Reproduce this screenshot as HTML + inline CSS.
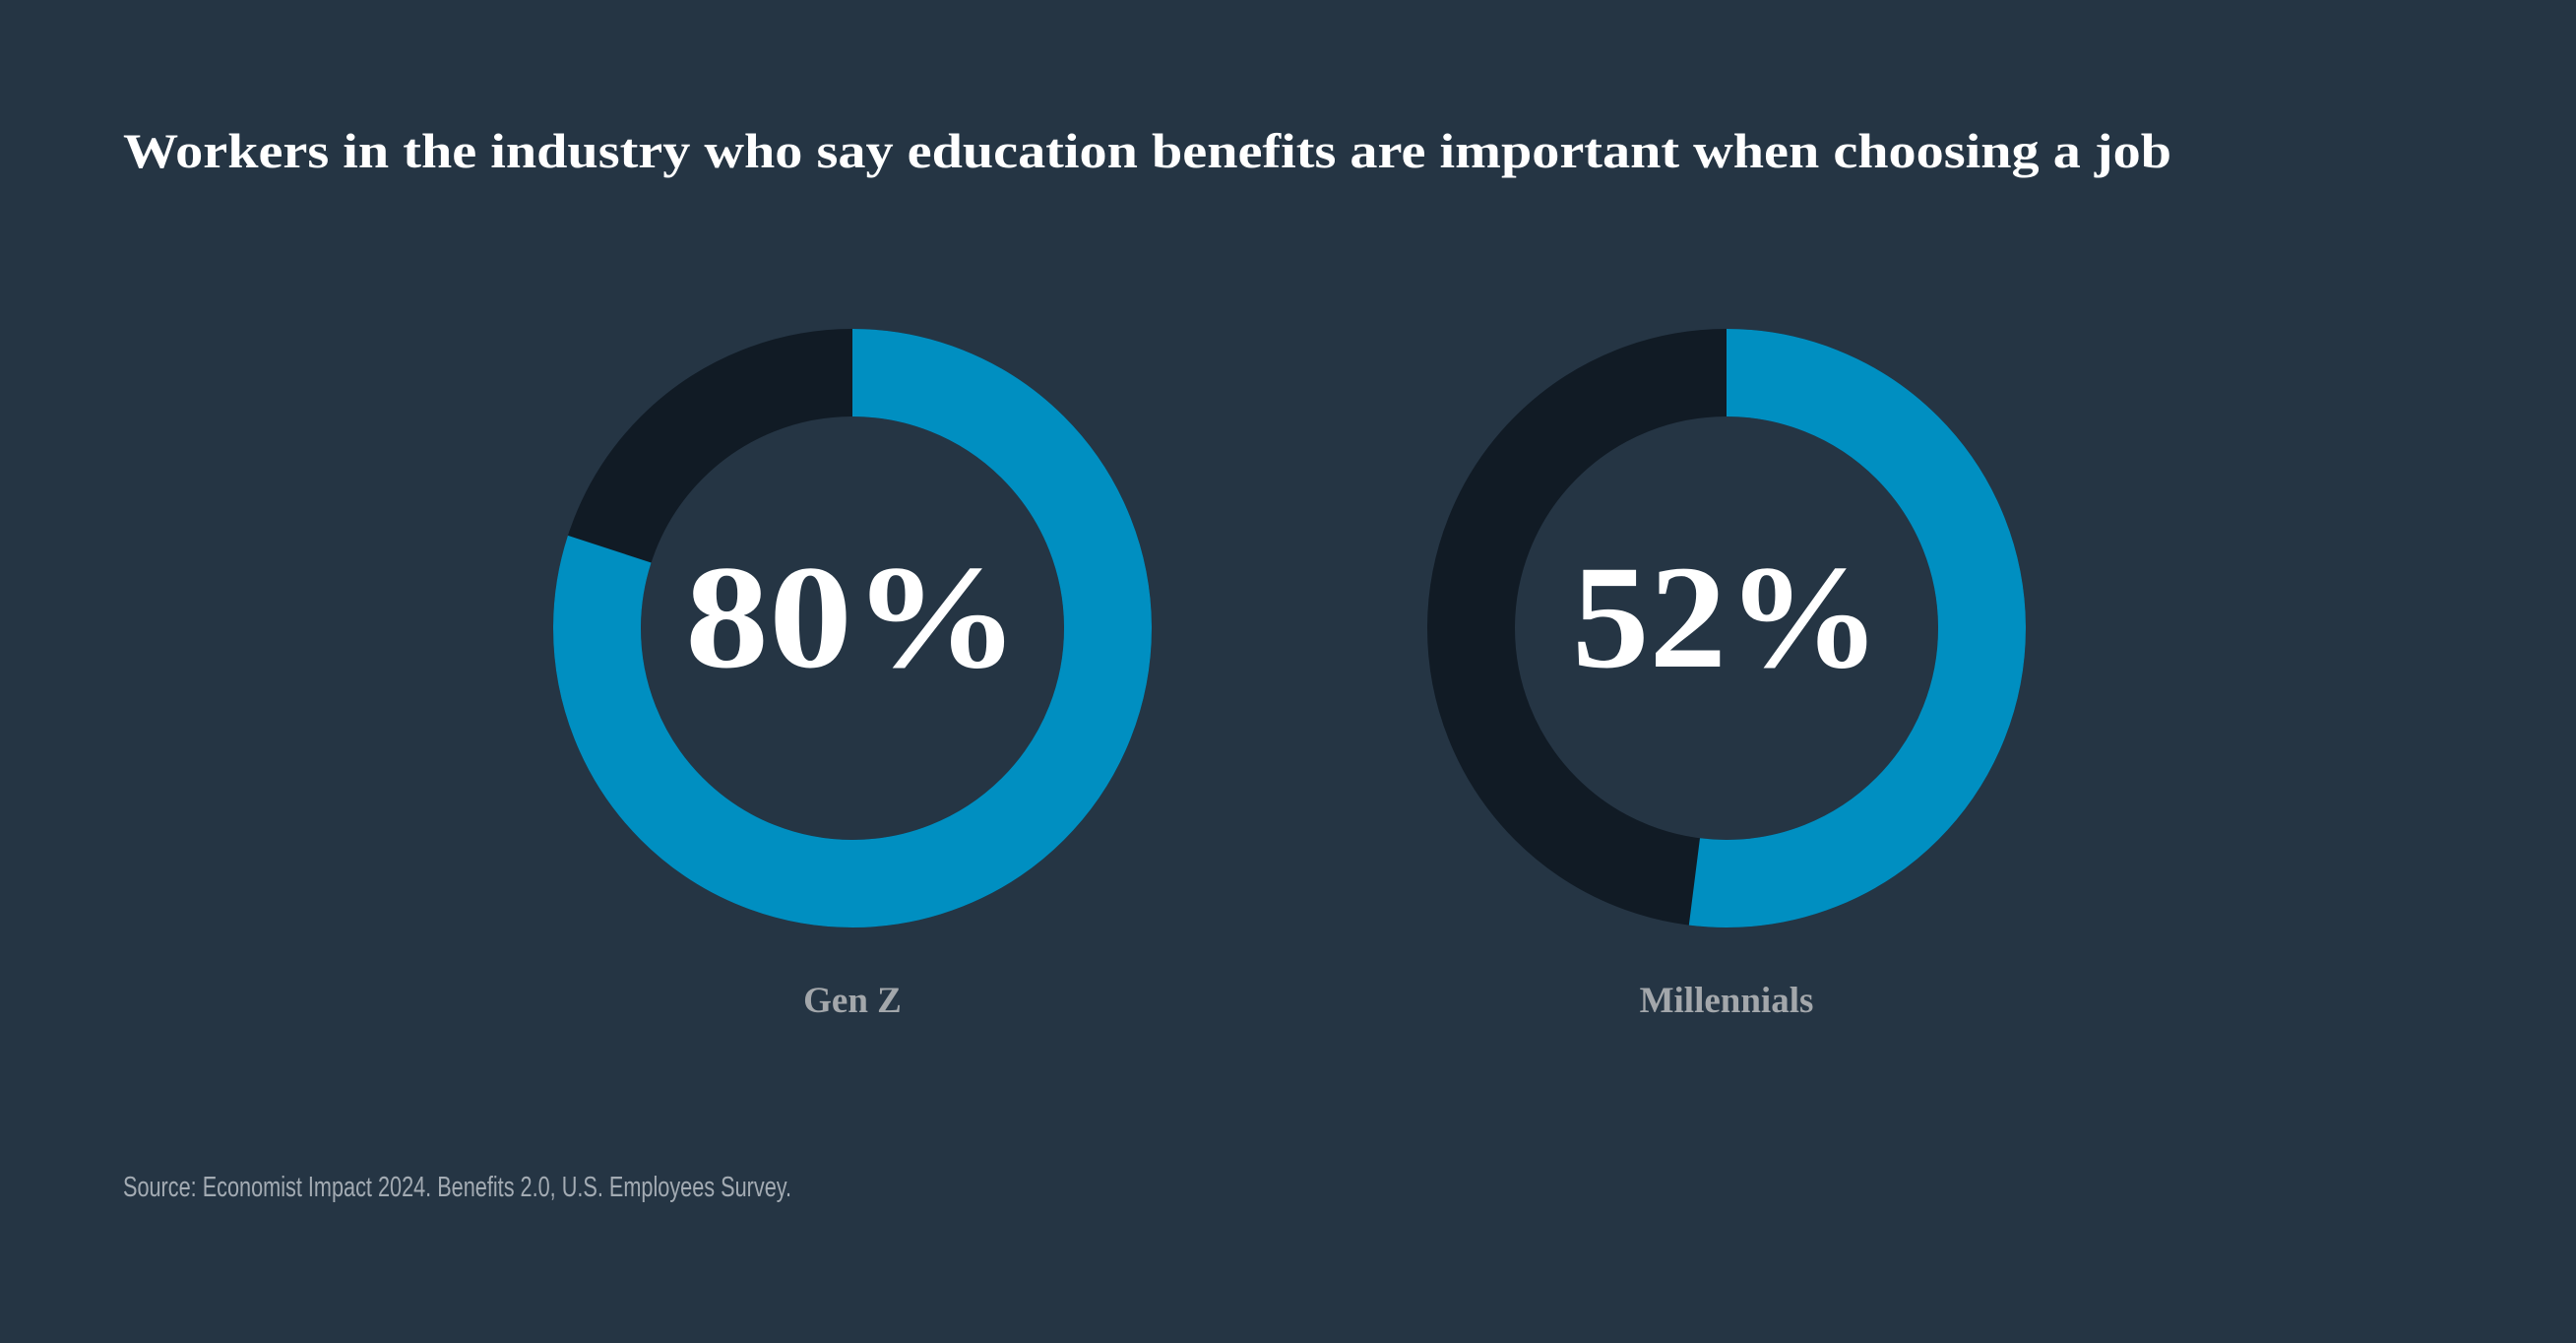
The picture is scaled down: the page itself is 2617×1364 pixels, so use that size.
<!DOCTYPE html>
<html><head><meta charset="utf-8"><style>
html,body{margin:0;padding:0;background:#253544;}
svg{display:block;}
</style></head><body>
<svg id="chart" width="2617" height="1364" viewBox="0 0 2617 1364" xmlns="http://www.w3.org/2000/svg">
<rect width="2617" height="1364" fill="#253544"/>
<text x="125" y="170" font-family="'Liberation Serif',serif" font-weight="bold" font-size="50" fill="#ffffff" textLength="2081" lengthAdjust="spacingAndGlyphs">Workers in the industry who say education benefits are important when choosing a job</text>
<g id="donuts"></g>
<text x="125" y="1215" font-family="'Liberation Sans Narrow','Liberation Sans',sans-serif" font-size="29" fill="#a3abb3" textLength="679" lengthAdjust="spacingAndGlyphs">Source: Economist Impact 2024. Benefits 2.0, U.S. Employees Survey.</text>
</svg>
<script>
const groups = ["Gen Z", "Millennials"];
const shares = [80, 52];

const NS = "http://www.w3.org/2000/svg";
const g = document.getElementById("donuts");
const centersX = [866, 1754];
const cy = 638, rOuter = 304, rInner = 215;
const rMid = (rOuter + rInner) / 2, sw = rOuter - rInner;
const C = 2 * Math.PI * rMid;
const numWidths = [340, 314];

groups.forEach((name, i) => {
  const cx = centersX[i];
  const dark = document.createElementNS(NS, "circle");
  
  
  dark.setAttribute("cx", cx); dark.setAttribute("cy", cy); dark.setAttribute("r", rMid);
  dark.setAttribute("fill", "none"); dark.setAttribute("stroke", "#111b25"); dark.setAttribute("stroke-width", sw);
  g.appendChild(dark);

  const arc = document.createElementNS(NS, "circle");
  
  
  const len = C * shares[i] / 100;
  arc.setAttribute("cx", cx); arc.setAttribute("cy", cy); arc.setAttribute("r", rMid);
  arc.setAttribute("fill", "none"); arc.setAttribute("stroke", "#008fc1"); arc.setAttribute("stroke-width", sw);
  arc.setAttribute("stroke-dasharray", len + " " + (C - len));
  arc.setAttribute("transform", "rotate(-90 " + cx + " " + cy + ")");
  g.appendChild(arc);

  const t = document.createElementNS(NS, "text");
  
  
  t.setAttribute("x", cx); t.setAttribute("y", 677); t.setAttribute("text-anchor", "middle");
  t.setAttribute("font-family", "'Liberation Serif',serif"); t.setAttribute("font-weight", "bold");
  t.setAttribute("font-size", "150"); t.setAttribute("fill", "#ffffff");
  t.setAttribute("textLength", numWidths[i]); t.setAttribute("lengthAdjust", "spacingAndGlyphs");
  t.textContent = shares[i] + "%";
  g.appendChild(t);

  const l = document.createElementNS(NS, "text");
  
  
  l.setAttribute("x", cx); l.setAttribute("y", 1028); l.setAttribute("text-anchor", "middle");
  l.setAttribute("font-family", "'Liberation Serif',serif"); l.setAttribute("font-weight", "bold");
  l.setAttribute("font-size", "37"); l.setAttribute("fill", "#a3a7ab");
  l.textContent = name;
  g.appendChild(l);
});
</script>
</body></html>
